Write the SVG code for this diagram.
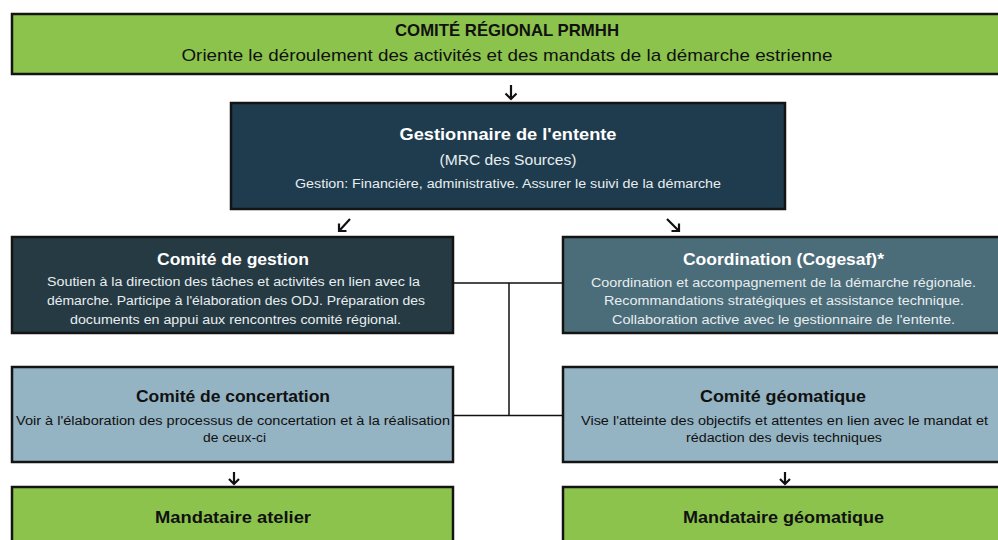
<svg xmlns="http://www.w3.org/2000/svg" width="998" height="540" viewBox="0 0 998 540">
<style>
.box{stroke:#141414;stroke-width:2.5}
.green{fill:#8cc34c}
.mid{fill:#1f3c4e}
.gest{fill:#263a44}
.coord{fill:#4b6c79}
.light{fill:#94b3c3}
text{font-family:"Liberation Sans",Arial,sans-serif;text-anchor:middle}
.t{font-weight:bold;font-size:17px}
.b{font-size:12.5px}
.w{fill:#ffffff}
.w2{fill:#e8eef0}
.d{fill:#111111}
.con{fill:none;stroke:#111111;stroke-width:1.5}
.arr{fill:none;stroke:#111111;stroke-width:2.2;stroke-linecap:butt;stroke-linejoin:miter}
</style>
<rect width="998" height="540" fill="#ffffff"/>
<g id="comite-regional">
<rect class="box green" x="12" y="14" width="992" height="60"/>
<text class="t d" x="507" y="36" font-size="16" textLength="224" lengthAdjust="spacingAndGlyphs">COMITÉ RÉGIONAL PRMHH</text>
<text class="d" x="507" y="61" font-size="17" textLength="651" lengthAdjust="spacingAndGlyphs">Oriente le déroulement des activités et des mandats de la démarche estrienne</text>
</g>
<g id="gestionnaire">
<rect class="box mid" x="231" y="103" width="554" height="106"/>
<text class="t w" x="508" y="140" textLength="217" lengthAdjust="spacingAndGlyphs">Gestionnaire de l'entente</text>
<text class="w2" x="508" y="165" font-size="14" textLength="137" lengthAdjust="spacingAndGlyphs">(MRC des Sources)</text>
<text class="w2" x="508" y="188" font-size="12" textLength="426" lengthAdjust="spacingAndGlyphs">Gestion: Financière, administrative. Assurer le suivi de la démarche</text>
</g>
<g id="comite-gestion">
<rect class="box gest" x="12" y="237" width="441" height="96"/>
<text class="t w" x="233" y="265" textLength="152" lengthAdjust="spacingAndGlyphs">Comité de gestion</text>
<text class="b w2" x="233.5" y="286" textLength="373" lengthAdjust="spacingAndGlyphs">Soutien à la direction des tâches et activités en lien avec la</text>
<text class="b w2" x="236" y="305" textLength="378" lengthAdjust="spacingAndGlyphs">démarche. Participe à l'élaboration des ODJ. Préparation des</text>
<text class="b w2" x="235.5" y="324" textLength="331" lengthAdjust="spacingAndGlyphs">documents en appui aux rencontres comité régional.</text>
</g>
<g id="coordination">
<rect class="box coord" x="563" y="237" width="441" height="96"/>
<text class="t w" x="783.5" y="265" textLength="201" lengthAdjust="spacingAndGlyphs">Coordination (Cogesaf)*</text>
<text class="b w2" x="783.5" y="287" textLength="385" lengthAdjust="spacingAndGlyphs">Coordination et accompagnement de la démarche régionale.</text>
<text class="b w2" x="784" y="305" textLength="360" lengthAdjust="spacingAndGlyphs">Recommandations stratégiques et assistance technique.</text>
<text class="b w2" x="783.5" y="324" textLength="343" lengthAdjust="spacingAndGlyphs">Collaboration active avec le gestionnaire de l'entente.</text>
</g>
<g id="comite-concertation">
<rect class="box light" x="12" y="367" width="441" height="95"/>
<text class="t d" x="233" y="402" textLength="194" lengthAdjust="spacingAndGlyphs">Comité de concertation</text>
<text class="b d" x="233" y="425" textLength="434" lengthAdjust="spacingAndGlyphs">Voir à l'élaboration des processus de concertation et à la réalisation</text>
<text class="b d" x="234.5" y="442" textLength="63" lengthAdjust="spacingAndGlyphs">de ceux-ci</text>
</g>
<g id="comite-geomatique">
<rect class="box light" x="563" y="367" width="441" height="95"/>
<text class="t d" x="783" y="402" textLength="166" lengthAdjust="spacingAndGlyphs">Comité géomatique</text>
<text class="b d" x="784.5" y="425" textLength="407" lengthAdjust="spacingAndGlyphs">Vise l'atteinte des objectifs et attentes en lien avec le mandat et</text>
<text class="b d" x="784" y="442" textLength="196" lengthAdjust="spacingAndGlyphs">rédaction des devis techniques</text>
</g>
<g id="mandataire-atelier">
<rect class="box green" x="12" y="487" width="441" height="70"/>
<text class="t d" x="233" y="523" textLength="156" lengthAdjust="spacingAndGlyphs">Mandataire atelier</text>
</g>
<g id="mandataire-geomatique">
<rect class="box green" x="563" y="487" width="441" height="70"/>
<text class="t d" x="783.5" y="523" textLength="201" lengthAdjust="spacingAndGlyphs">Mandataire géomatique</text>
</g>
<g id="connectors">
<path class="con" d="M453,283 H563 M509,283 V415.5 M453,415.5 H563"/>
<path class="arr" d="M511,85 V99 M505.5,93.5 L511,99 L516.5,93.5"/>
<path class="arr" d="M350,219 L339,231 M339,223.5 V231 H346.5"/>
<path class="arr" d="M667,219 L679,231 M679,223.5 V231 H671.5"/>
<path class="arr" d="M234,472 V484 M229,479 L234,484 L239,479"/>
<path class="arr" d="M785,472 V484 M780,479 L785,484 L790,479"/>
</g>
</svg>
